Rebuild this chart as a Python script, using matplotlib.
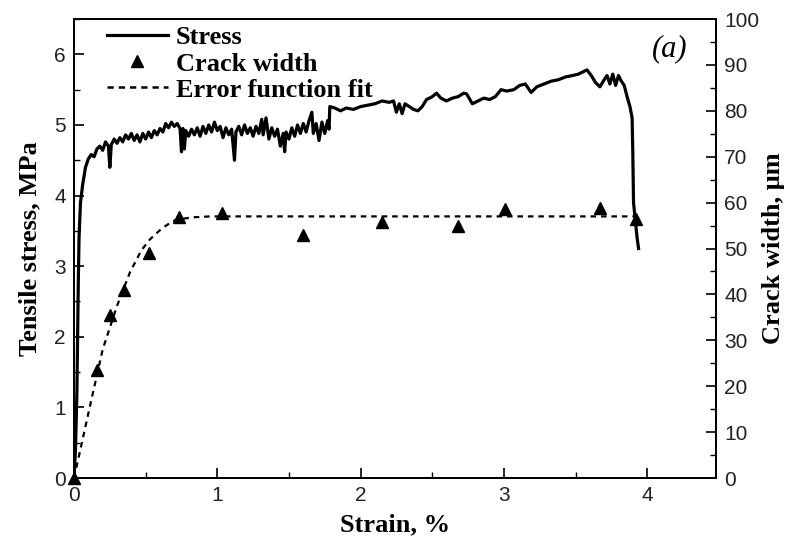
"""
tensile stress and crack width vs strain, panel (a)
"""
import matplotlib
matplotlib.use("Agg")
import matplotlib.pyplot as plt
from matplotlib.lines import Line2D

# ------------------------------------------------------
# data
stress_strain = [0.000, 0.010, 0.020, 0.025, 0.030, 0.035, 0.045, 0.060, 0.080, 0.100,
                 0.120, 0.140, 0.160, 0.180, 0.200, 0.220, 0.240, 0.250, 0.260, 0.280,
                 0.300, 0.320, 0.340, 0.360, 0.380, 0.400, 0.420, 0.440, 0.460, 0.480,
                 0.500, 0.520, 0.540, 0.560, 0.580, 0.600, 0.620, 0.640, 0.660, 0.680,
                 0.700, 0.720, 0.740, 0.750, 0.760, 0.770, 0.780, 0.800, 0.820, 0.840,
                 0.860, 0.880, 0.900, 0.920, 0.940, 0.960, 0.980, 1.000, 1.020, 1.040,
                 1.060, 1.080, 1.100, 1.120, 1.130, 1.150, 1.170, 1.190, 1.210, 1.230,
                 1.250, 1.270, 1.290, 1.310, 1.320, 1.340, 1.360, 1.380, 1.400, 1.420,
                 1.440, 1.460, 1.470, 1.480, 1.500, 1.520, 1.540, 1.560, 1.580, 1.600,
                 1.620, 1.640, 1.660, 1.670, 1.690, 1.710, 1.730, 1.750, 1.770, 1.780,
                 1.785, 1.820, 1.860, 1.900, 1.950, 2.000, 2.050, 2.100, 2.150, 2.200,
                 2.230, 2.250, 2.270, 2.290, 2.310, 2.340, 2.370, 2.400, 2.430, 2.460,
                 2.500, 2.530, 2.560, 2.600, 2.640, 2.680, 2.720, 2.740, 2.780, 2.820,
                 2.860, 2.900, 2.940, 2.980, 3.020, 3.070, 3.110, 3.150, 3.190, 3.230,
                 3.280, 3.330, 3.380, 3.430, 3.480, 3.520, 3.560, 3.580, 3.610, 3.640,
                 3.670, 3.700, 3.720, 3.740, 3.760, 3.780, 3.800, 3.820, 3.840, 3.860,
                 3.880, 3.895, 3.900, 3.905, 3.915, 3.930, 3.940]
stress = [0.00, 0.40, 1.20, 2.00, 2.80, 3.40, 3.90, 4.15, 4.40, 4.52,
          4.58, 4.55, 4.66, 4.70, 4.64, 4.76, 4.70, 4.40, 4.72, 4.80,
          4.74, 4.82, 4.76, 4.86, 4.80, 4.88, 4.78, 4.86, 4.76, 4.88,
          4.80, 4.90, 4.82, 4.92, 4.86, 4.95, 4.90, 5.02, 4.96, 5.04,
          4.98, 5.02, 4.95, 4.62, 4.95, 4.66, 4.92, 4.84, 4.94, 4.86,
          4.96, 4.84, 4.98, 4.88, 5.00, 4.90, 5.04, 4.92, 4.98, 4.82,
          4.96, 4.86, 4.94, 4.50, 4.90, 4.98, 4.86, 5.00, 4.88, 4.96,
          4.84, 4.98, 4.88, 5.08, 4.86, 5.10, 4.80, 4.96, 4.84, 4.94,
          4.70, 4.88, 4.62, 4.90, 4.80, 4.96, 4.84, 5.00, 4.88, 5.02,
          4.90, 5.06, 5.18, 4.88, 5.02, 4.78, 5.04, 4.88, 5.06, 4.94,
          5.26, 5.24, 5.20, 5.24, 5.22, 5.26, 5.28, 5.30, 5.34, 5.32,
          5.34, 5.18, 5.30, 5.16, 5.30, 5.26, 5.22, 5.20, 5.26, 5.36,
          5.40, 5.45, 5.38, 5.34, 5.38, 5.40, 5.45, 5.44, 5.30, 5.34,
          5.38, 5.36, 5.40, 5.50, 5.48, 5.50, 5.56, 5.58, 5.46, 5.54,
          5.58, 5.62, 5.64, 5.68, 5.70, 5.72, 5.76, 5.78, 5.70, 5.60,
          5.54, 5.64, 5.70, 5.58, 5.72, 5.56, 5.70, 5.62, 5.56, 5.40,
          5.26, 5.10, 4.60, 3.90, 3.70, 3.40, 3.25]

crack_strain = [0.0, 0.16, 0.25, 0.35, 0.52, 0.73, 1.03, 1.60, 2.15, 2.68, 3.01, 3.67, 3.92]
crack_width = [0.0, 23.5, 35.5, 41.0, 49.0, 56.8, 57.8, 53.0, 55.8, 55.0, 58.7, 58.8, 56.5]

fit_strain = [0.0, 0.05, 0.11, 0.20, 0.30, 0.39, 0.47, 0.53, 0.61, 0.69, 0.76, 0.83, 0.95,
              1.2, 2.0, 3.0, 3.95]
fit_width = [0.0, 7.0, 15.5, 28.0, 37.5, 44.8, 49.6, 52.0, 54.3, 56.0, 56.5, 56.8, 57.0,
             57.0, 57.0, 57.0, 57.0]

xticks = [0, 1, 2, 3, 4]
yticks_left = [0, 1, 2, 3, 4, 5, 6]
yticks_right = list(range(0, 101, 10))

serif = ['Liberation Serif', 'DejaVu Serif']
sans = ['Liberation Sans', 'DejaVu Sans']

# ------------------------------------------------------
fig = plt.figure(figsize=(7.85, 5.44), dpi=100)
ax = fig.add_axes([0.0943, 0.1213, 0.8177, 0.8437])
ax2 = ax.twinx()

ax.plot(stress_strain, stress, color='black', lw=2.3, zorder=3)
ax2.plot(fit_strain, fit_width, color='black', lw=1.6, ls=(0, (2.5, 2.2)))
ax2.plot(crack_strain, crack_width, ls='none', marker='^', color='black', ms=8.5, clip_on=False)

ax.set_xlim(0, 4.48)
ax.set_ylim(0, 6.5)
ax2.set_ylim(0, 100)

ax.set_xticks(xticks)
ax.set_xticks([0.5, 1.5, 2.5, 3.5], minor=True)
ax.set_yticks(yticks_left)
ax.set_yticks([0.5, 1.5, 2.5, 3.5, 4.5, 5.5, 6.5], minor=True)
ax2.set_yticks(yticks_right)
ax2.set_yticks(list(range(5, 100, 10)), minor=True)

for a in (ax, ax2):
    a.tick_params(which='major', direction='in', length=7, width=1.2, labelsize=15, pad=6)
    a.tick_params(which='minor', direction='in', length=4, width=1.0)
    for sp in a.spines.values():
        sp.set_linewidth(1.4)
    for lab in a.get_xticklabels() + a.get_yticklabels():
        lab.set_family(sans)
        lab.set_color('#222222')
ax.tick_params(top=False, right=False)

ax.set_xlabel('Strain, %', family=serif, fontweight='bold', fontsize=19, labelpad=6)
ax.set_ylabel('Tensile stress, MPa', family=serif, fontweight='bold', fontsize=19, labelpad=9)
ax2.set_ylabel('Crack width, \u03bcm', family=serif, fontweight='bold', fontsize=19,
               rotation=90, labelpad=2)

ax.text(0.955, 0.935, '(a)', transform=ax.transAxes, family=serif, style='italic',
        fontsize=22, ha='right', va='center')

handles = [Line2D([], [], color='black', lw=2.3),
           Line2D([], [], ls='none', marker='^', color='black', ms=8.5),
           Line2D([], [], color='black', lw=1.8, ls=(0, (2.5, 2.0)))]
labels = ['Stress', 'Crack width', 'Error function fit']
ax2.legend(handles, labels, loc='upper left', bbox_to_anchor=(0.035, 1.008), frameon=False,
           prop={'family': serif, 'weight': 'bold', 'size': 19},
           handlelength=2.3, handletextpad=0.3, labelspacing=0.1, borderaxespad=0)

fig.savefig('out.png', dpi=100)
